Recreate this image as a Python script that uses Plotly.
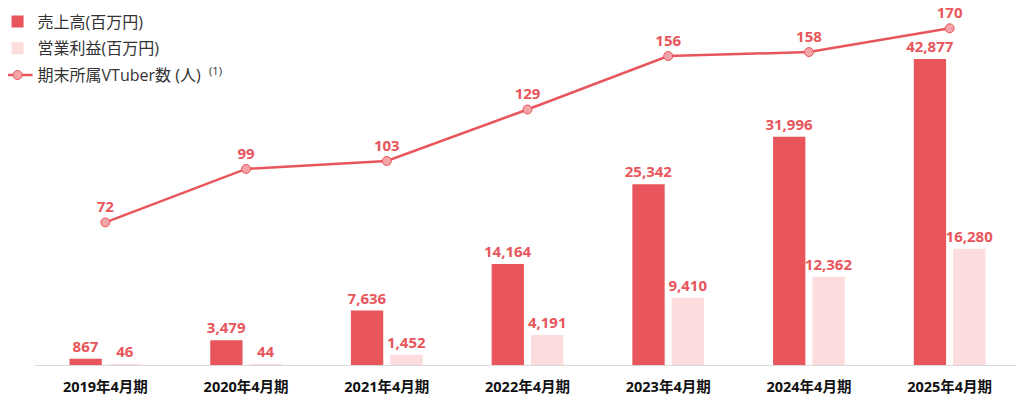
import plotly.graph_objects as go

# data
periods = ["2019年4月期", "2020年4月期", "2021年4月期", "2022年4月期",
           "2023年4月期", "2024年4月期", "2025年4月期"]
sales = [867, 3479, 7636, 14164, 25342, 31996, 42877]
op_profit = [46, 44, 1452, 4191, 9410, 12362, 16280]
vtubers = [72, 99, 103, 129, 156, 158, 170]

RED = "#E8565C"
PINK = "#FCDCDC"
FONT = "Open Sans, Noto Sans CJK JP, sans-serif"
label_font = dict(color=RED, size=15, family=FONT, weight="bold")

fig = go.Figure()

fig.add_trace(go.Bar(
    x=periods, y=sales, name="売上高(百万円)", legendgroup="a",
    marker=dict(color=RED, line=dict(width=0)),
    text=[f"{v:,}" for v in sales], textposition="outside",
    constraintext="none", textfont=label_font, cliponaxis=False,
))
fig.add_trace(go.Bar(
    x=periods, y=op_profit, name="営業利益(百万円)", legendgroup="b",
    marker=dict(color=PINK, line=dict(width=0)),
    text=[f"{v:,}" for v in op_profit], textposition="outside",
    constraintext="none", textfont=label_font, cliponaxis=False,
))
fig.add_trace(go.Scatter(
    x=periods, y=vtubers, name="期末所属VTuber数 (人)  <sup>(1)</sup>",
    legendgroup="c",
    mode="lines+markers+text", yaxis="y2",
    line=dict(color=RED, width=2.5),
    marker=dict(size=9, color="#F4A3A6", line=dict(color=RED, width=1)),
    text=[str(v) for v in vtubers], textposition="top center",
    textfont=label_font, cliponaxis=False,
))

# the page adds 8px of body margin, so the plot area is set 8px up/left
fig.update_layout(
    width=1024, height=400,
    margin=dict(l=27, r=12, t=12, b=43, autoexpand=False),
    paper_bgcolor="white", plot_bgcolor="white",
    font=dict(family=FONT, color="#222"),
    barmode="group", bargap=0.44, bargroupgap=0.18,
    showlegend=True,
    legend=dict(x=-0.038, y=1.045, xanchor="left", yanchor="top",
                itemwidth=30, font=dict(size=16, color="#333"),
                tracegroupgap=3, bgcolor="rgba(0,0,0,0)"),
    xaxis=dict(showline=True, linecolor="#D9D9D9", linewidth=1,
               showgrid=False, ticks="", range=[-0.5, 6.5],
               ticklabelstandoff=9,
               tickfont=dict(size=14.5, color="#111", weight="bold")),
    yaxis=dict(range=[0, 48340], visible=False, showgrid=False),
    yaxis2=dict(range=[0, 174.2], overlaying="y", visible=False,
                showgrid=False),
)

fig.write_html("out.html")
